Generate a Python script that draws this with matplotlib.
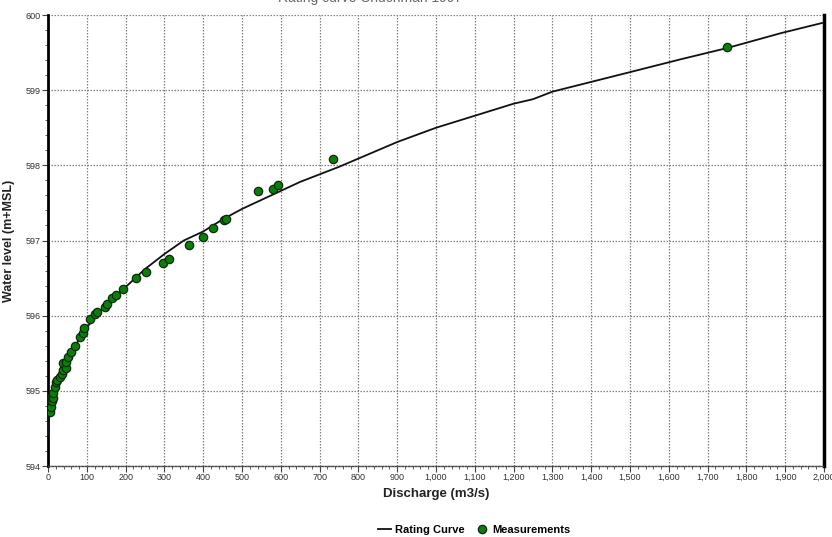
import numpy as np
import matplotlib.pyplot as plt
from matplotlib.ticker import MultipleLocator, FuncFormatter

plt.rcParams['font.family'] = ['Liberation Sans', 'DejaVu Sans']

# rating curve (discharge m3/s, water level m+MSL)
curve_q = [0, 3, 8, 15, 25, 40, 60, 80, 100, 125, 150, 175, 200, 250, 300, 350,
           400, 450, 500, 550, 600, 650, 700, 750, 800, 900, 1000, 1100, 1200,
           1250, 1300, 1400, 1500, 1630, 1750, 1890, 2000]
curve_h = [594.41, 594.75, 594.88, 595.0, 595.15, 595.33, 595.52, 595.68, 595.84,
           596.01, 596.15, 596.27, 596.38, 596.62, 596.82, 597.0, 597.12, 597.28,
           597.42, 597.54, 597.66, 597.78, 597.88, 597.98, 598.09, 598.31, 598.50,
           598.66, 598.82, 598.88, 598.98, 599.11, 599.24, 599.41, 599.56, 599.76, 599.9]

# measurements
meas_q = [5, 8, 9.5, 9.5, 12, 14, 18, 20, 24, 31, 35, 38, 38, 46, 46, 52, 59, 70,
          82, 89, 94, 108, 121, 125, 147, 151, 166, 174, 194, 226, 252, 297, 313,
          364, 399, 424, 454, 459, 540, 579, 593, 734, 1751]
meas_h = [594.72, 594.78, 594.86, 594.92, 594.9, 594.97, 595.05, 595.12, 595.15,
          595.18, 595.22, 595.28, 595.37, 595.31, 595.38, 595.45, 595.52, 595.59,
          595.71, 595.77, 595.83, 595.95, 596.02, 596.05, 596.11, 596.16, 596.23,
          596.28, 596.35, 596.5, 596.58, 596.70, 596.76, 596.94, 597.04, 597.17,
          597.27, 597.29, 597.66, 597.69, 597.74, 598.08, 599.58]

fig = plt.figure(figsize=(8.32, 5.37), dpi=100)
ax = fig.add_axes([48 / 832, 1 - 466 / 537, 776 / 832, 451 / 537])

ax.plot(curve_q, curve_h, color='#111111', lw=1.3, label='Rating Curve', zorder=3)
ax.plot(meas_q, meas_h, 'o', color='#0b7d0b', mec='#0a2a0a', mew=0.9, ms=6,
        label='Measurements', zorder=4)

ax.set_xlim(0, 2000)
ax.set_ylim(594, 600)
ax.xaxis.set_major_locator(MultipleLocator(100))
ax.xaxis.set_minor_locator(MultipleLocator(20))
ax.yaxis.set_major_locator(MultipleLocator(1))
ax.yaxis.set_minor_locator(MultipleLocator(0.2))
ax.xaxis.set_major_formatter(FuncFormatter(lambda v, p: f'{int(v):,}'))
ax.yaxis.set_major_formatter(FuncFormatter(lambda v, p: f'{int(v)}'))

ax.grid(True, which='major', color='#808080', ls=(0, (1.2, 1.2)), lw=0.9)
ax.tick_params(which='major', length=4, width=0.8, color='#444444',
               labelsize=6.5, labelcolor='#333333', pad=1)
ax.tick_params(which='minor', length=2, width=0.6, color='#444444')

ax.spines['left'].set_linewidth(2)
ax.spines['left'].set_color('black')
ax.spines['right'].set_linewidth(2.5)
ax.spines['right'].set_color('black')
ax.spines['top'].set_visible(False)
ax.spines['bottom'].set_linestyle((0, (1.2, 1.2)))
ax.spines['bottom'].set_linewidth(1)
ax.spines['bottom'].set_color('#444444')

ax.set_xlabel('Discharge (m3/s)', fontsize=9.5, fontweight='bold', color='#222222', labelpad=4)
ax.set_ylabel('Water level (m+MSL)', fontsize=9, fontweight='bold', color='#222222', labelpad=8)

fig.text(0.445, 1.004, 'Rating curve Chuchman 1997', ha='center', va='center',
         fontsize=10, color='#666666')

fig.legend(loc='center', bbox_to_anchor=(0.57, 0.013), ncol=2, frameon=False,
           prop={'weight': 'bold', 'size': 8}, handlelength=1.2,
           handletextpad=0.3, columnspacing=1.0)

fig.savefig('out.png', dpi=100)
